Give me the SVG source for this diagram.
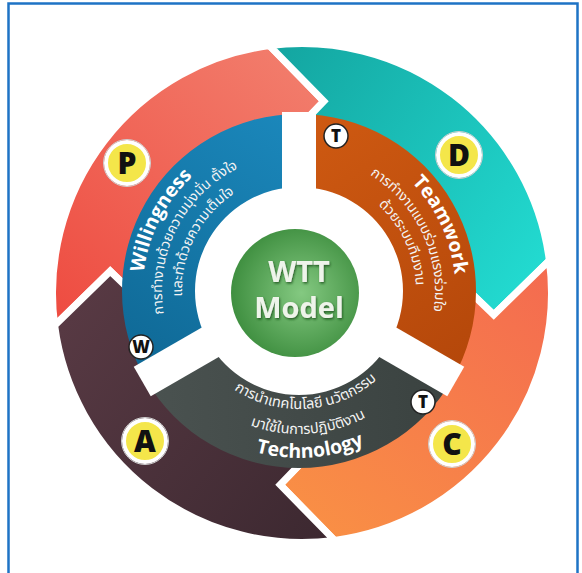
<svg xmlns="http://www.w3.org/2000/svg" width="582" height="573" viewBox="0 0 582 573">
<defs>
<style>
.seg{stroke:#fff;stroke-width:7;stroke-linejoin:miter}
.title{font-family:"Open Sans","DejaVu Sans",sans-serif;font-weight:700;font-size:19.5px;fill:#fff}
.thai{font-family:"Noto Sans Thai","Noto Sans","DejaVu Sans",sans-serif;font-size:14px;fill:#f4f4f4}
.thai-g{font-family:"Noto Sans Thai","Noto Sans","DejaVu Sans",sans-serif;font-size:14.5px;fill:#f4f4f4}
.badge{fill:#F4E64A;stroke:#fff;stroke-width:4}
.badge-ring{fill:none;stroke:#cfcfcf;stroke-width:1}
.badge-t{font-family:"Open Sans","DejaVu Sans",sans-serif;font-weight:800;font-size:30px;fill:#111;text-anchor:middle}
.mini{fill:#fff;stroke:#222;stroke-width:1.5}
.mini-t{font-family:"Open Sans","DejaVu Sans",sans-serif;font-weight:800;font-size:17px;fill:#111;text-anchor:middle}
.center-t{font-family:"Open Sans","DejaVu Sans",sans-serif;font-weight:700;font-size:29px;fill:#EEF4EA;text-anchor:middle}
</style>
<linearGradient id="gP" gradientUnits="userSpaceOnUse" x1="60" y1="330" x2="300" y2="50"><stop offset="0" stop-color="#EE4B40"/><stop offset="1" stop-color="#F27E6D"/></linearGradient>
<linearGradient id="gD" gradientUnits="userSpaceOnUse" x1="280" y1="60" x2="550" y2="250"><stop offset="0" stop-color="#14A7A2"/><stop offset="1" stop-color="#22DAD0"/></linearGradient>
<linearGradient id="gC" gradientUnits="userSpaceOnUse" x1="550" y1="270" x2="330" y2="540"><stop offset="0" stop-color="#F46B50"/><stop offset="1" stop-color="#F98F45"/></linearGradient>
<linearGradient id="gA" gradientUnits="userSpaceOnUse" x1="60" y1="330" x2="330" y2="540"><stop offset="0" stop-color="#573943"/><stop offset="1" stop-color="#3C2830"/></linearGradient>
<linearGradient id="gBlue" gradientUnits="userSpaceOnUse" x1="299" y1="114" x2="130" y2="370"><stop offset="0" stop-color="#1B88BC"/><stop offset="1" stop-color="#0F6895"/></linearGradient>
<linearGradient id="gOr" gradientUnits="userSpaceOnUse" x1="299" y1="114" x2="470" y2="370"><stop offset="0" stop-color="#CF5A12"/><stop offset="1" stop-color="#B4470A"/></linearGradient>
<linearGradient id="gGray" gradientUnits="userSpaceOnUse" x1="150" y1="380" x2="450" y2="380"><stop offset="0" stop-color="#4A5250"/><stop offset="1" stop-color="#3A4240"/></linearGradient>
<radialGradient id="gGreen" cx="0.55" cy="0.5" r="0.55"><stop offset="0" stop-color="#84C981"/><stop offset="1" stop-color="#3F8F40"/></radialGradient>
<filter id="shadow" x="-20%" y="-20%" width="140%" height="140%"><feDropShadow dx="1" dy="1.5" stdDeviation="1" flood-color="#1E4A1E" flood-opacity="0.8"/></filter>
<path id="pB1" d="M 227.73 430.89 A 157 157 0 0 1 370.27 151.11"/>
<path id="pB2" d="M 236.80 413.07 A 137 137 0 0 1 361.20 168.93"/>
<path id="pB3" d="M 245.88 395.25 A 117 117 0 0 1 352.12 186.75"/>
<path id="pO1" d="M 232.65 148.71 A 157 157 0 0 1 365.35 433.29"/>
<path id="pO2" d="M 241.10 166.84 A 137 137 0 0 1 356.90 415.16"/>
<path id="pO3" d="M 249.55 184.96 A 117 117 0 0 1 348.45 397.04"/>
<path id="pG1" d="M 181.45 301.28 A 118 118 0 0 0 416.84 284.82"/>
<path id="pG2" d="M 156.54 303.46 A 143 143 0 0 0 441.80 283.52"/>
<path id="pG3" d="M 132.64 305.56 A 167 167 0 0 0 465.77 282.26"/>
</defs>
<rect x="0" y="0" width="582" height="573" fill="#fff"/>
<rect id="frame" x="8.5" y="3.5" width="569" height="600" fill="none" stroke="#1E73C5" stroke-width="2.5"/>

<g id="cycle-arrows">
<g id="arrow-P"><path class="seg" fill="url(#gP)" d="M 54.64 325.57 A 249.5 249.5 0 0 1 269.43 45.64 L 323.85 101.24 L 282.42 144.28 A 150 150 0 0 0 153.28 312.58 L 110.24 271.15 Z"/></g>
<g id="arrow-D"><path class="seg" fill="url(#gD)" d="M 269.43 45.64 A 249.5 249.5 0 0 1 549.36 260.43 L 493.76 314.85 L 450.72 273.42 A 150 150 0 0 0 282.42 144.28 L 323.85 101.24 Z"/></g>
<g id="arrow-C"><path class="seg" fill="url(#gC)" d="M 549.36 260.43 A 249.5 249.5 0 0 1 334.57 540.36 L 280.15 484.76 L 321.58 441.72 A 150 150 0 0 0 450.72 273.42 L 493.76 314.85 Z"/></g>
<g id="arrow-A"><path class="seg" fill="url(#gA)" d="M 334.57 540.36 A 249.5 249.5 0 0 1 54.64 325.57 L 110.24 271.15 L 153.28 312.58 A 150 150 0 0 0 321.58 441.72 L 280.15 484.76 Z"/></g>
</g>

<g id="ring-willingness">
<path fill="url(#gBlue)" d="M 145.71 379.5 A 177 177 0 0 1 299 114 L 299 187 A 104 104 0 0 0 208.93 343 Z"/>
<text class="title"><textPath href="#pB1" startOffset="50%" text-anchor="middle">Willingness</textPath></text>
<text class="thai"><textPath href="#pB2" startOffset="50%" text-anchor="middle">การทำงานด้วยความมุ่งมั่น ตั้งใจ</textPath></text>
<text class="thai"><textPath href="#pB3" startOffset="50%" text-anchor="middle">และทำด้วยความเต็มใจ</textPath></text>
</g>
<g id="ring-teamwork">
<path fill="url(#gOr)" d="M 299 114 A 177 177 0 0 1 452.29 379.5 L 389.07 343 A 104 104 0 0 0 299 187 Z"/>
<text class="title"><textPath href="#pO1" startOffset="50%" text-anchor="middle">Teamwork</textPath></text>
<text class="thai"><textPath href="#pO2" startOffset="50%" text-anchor="middle">การทำงานแบบร่วมแรงร่วมใจ</textPath></text>
<text class="thai"><textPath href="#pO3" startOffset="50%" text-anchor="middle">ด้วยระบบทีมงาน</textPath></text>
</g>
<g id="ring-technology">
<path fill="url(#gGray)" d="M 452.29 379.5 A 177 177 0 0 1 145.71 379.5 L 208.93 343 A 104 104 0 0 0 389.07 343 Z"/>
<text class="thai-g"><textPath href="#pG1" startOffset="50%" text-anchor="middle">การนำเทคโนโลยี นวัตกรรม</textPath></text>
<text class="thai-g"><textPath href="#pG2" startOffset="50%" text-anchor="middle">มาใช้ในการปฏิบัติงาน</textPath></text>
<text class="title"><textPath href="#pG3" startOffset="50%" text-anchor="middle">Technology</textPath></text>
</g>
<g id="ring-gaps" fill="#fff">
<rect x="-17" y="-179" width="34" height="179" transform="translate(299 291)"/>
<rect x="-17" y="-181" width="34" height="181" transform="translate(299 291) rotate(120)"/>
<rect x="-17" y="-181" width="34" height="181" transform="translate(299 291) rotate(240)"/>
</g>

<g id="center">
<circle cx="295" cy="293" r="64" fill="url(#gGreen)"/>
<g filter="url(#shadow)">
<text class="center-t" x="299" y="282">WTT</text>
<text class="center-t" x="299" y="318">Model</text>
</g>
</g>

<g id="badge-P"><circle class="badge" cx="127" cy="163" r="21"/><circle class="badge-ring" cx="127" cy="163" r="23.5"/><text class="badge-t" x="127" y="174">P</text></g>
<g id="badge-D"><circle class="badge" cx="459" cy="155" r="21"/><circle class="badge-ring" cx="459" cy="155" r="23.5"/><text class="badge-t" x="459" y="166">D</text></g>
<g id="badge-A"><circle class="badge" cx="145" cy="441" r="21"/><circle class="badge-ring" cx="145" cy="441" r="23.5"/><text class="badge-t" x="145" y="452">A</text></g>
<g id="badge-C"><circle class="badge" cx="452" cy="444" r="21"/><circle class="badge-ring" cx="452" cy="444" r="23.5"/><text class="badge-t" x="452" y="455">C</text></g>

<g id="mini-T1"><circle class="mini" cx="336" cy="136" r="12"/><text class="mini-t" x="336" y="142">T</text></g>
<g id="mini-W"><circle class="mini" cx="141" cy="347" r="12"/><text class="mini-t" x="141" y="353">W</text></g>
<g id="mini-T2"><circle class="mini" cx="423" cy="402" r="12"/><text class="mini-t" x="423" y="408">T</text></g>
</svg>
